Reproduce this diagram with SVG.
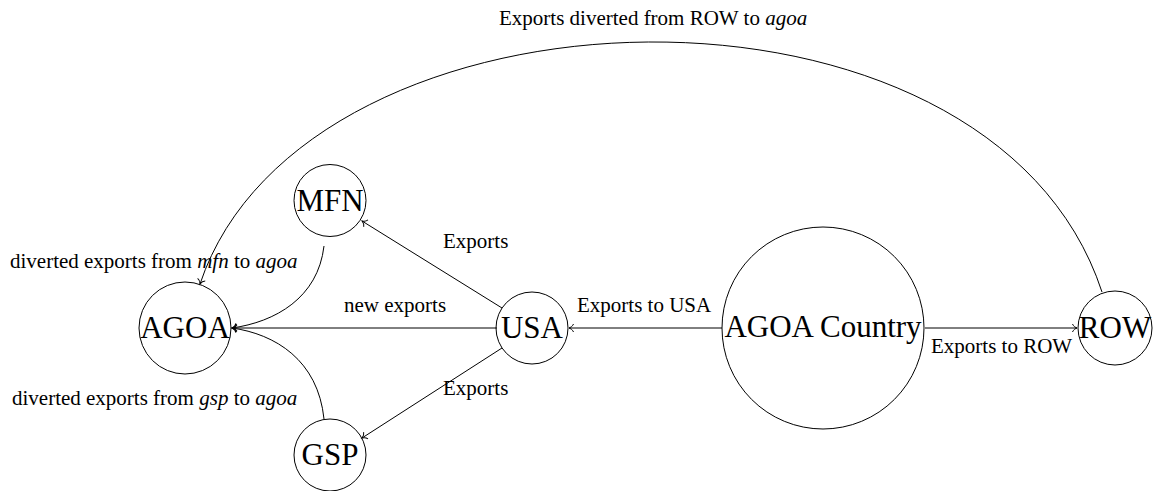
<svg xmlns="http://www.w3.org/2000/svg" width="1153" height="491" viewBox="0 0 1153 491">
<style>
.node{fill:none;stroke:#000;stroke-width:1}
.nl{font-family:"Liberation Serif","Times New Roman",serif;font-size:31px;text-anchor:middle;fill:#000}
.el{font-family:"Liberation Serif","Times New Roman",serif;font-size:21px;fill:#000}
.edge{fill:none;stroke:#000;stroke-width:1;marker-end:url(#arr)}
</style>
<defs>
<marker id="arr" markerUnits="userSpaceOnUse" markerWidth="12" markerHeight="12" refX="0" refY="0" viewBox="-6 -6 12 12" orient="auto" overflow="visible">
<path d="M-4.5,-4 C-3.8,-1.8 -1.2,-0.4 0,0 C-1.2,0.4 -3.8,1.8 -4.5,4" fill="none" stroke="#000" stroke-width="1"/>
</marker>
</defs>
<g id="connectors">
<path class="edge" d="M722,328 L569,328"/>
<path class="edge" d="M925,328 L1077,328"/>
<path class="edge" d="M497,328 L232,328"/>
<path class="edge" d="M502,308 L362,221"/>
<path class="edge" d="M502,348 L362,438"/>
<path class="edge" d="M324,246 C318,298 275,322 232,328"/>
<path class="edge" d="M324,419 C318,360 275,334 232,328"/>
<path class="edge" d="M1102,292 C990,-50 305,-30 200,284"/>
</g>
<g id="labels">
<text class="el" x="499" y="25">Exports diverted from ROW to <tspan font-style="italic">agoa</tspan></text>
<text class="el" x="10" y="268">diverted exports from <tspan font-style="italic">mfn</tspan> to <tspan font-style="italic">agoa</tspan></text>
<text class="el" x="12" y="405">diverted exports from <tspan font-style="italic">gsp</tspan> to <tspan font-style="italic">agoa</tspan></text>
<text class="el" x="344" y="312">new exports</text>
<text class="el" x="443" y="248">Exports</text>
<text class="el" x="443" y="395">Exports</text>
<text class="el" x="577" y="312">Exports to USA</text>
<text class="el" x="931" y="353">Exports to ROW</text>
</g>
<g id="node-agoa"><circle class="node" cx="185" cy="328" r="46"/><text class="nl" x="185" y="338">AGOA</text></g>
<g id="node-mfn"><circle class="node" cx="330" cy="200.5" r="36"/><text class="nl" x="330" y="210.5">MFN</text></g>
<g id="node-gsp"><circle class="node" cx="330" cy="455" r="36"/><text class="nl" x="330" y="465">GSP</text></g>
<g id="node-usa"><circle class="node" cx="532" cy="328" r="36"/><text class="nl" x="532" y="338">USA</text></g>
<g id="node-agoa-country"><circle class="node" cx="823" cy="328" r="101"/><text class="nl" x="823" y="337">AGOA Country</text></g>
<g id="node-row"><circle class="node" cx="1115" cy="328" r="37"/><text class="nl" x="1115" y="338">ROW</text></g>
</svg>
